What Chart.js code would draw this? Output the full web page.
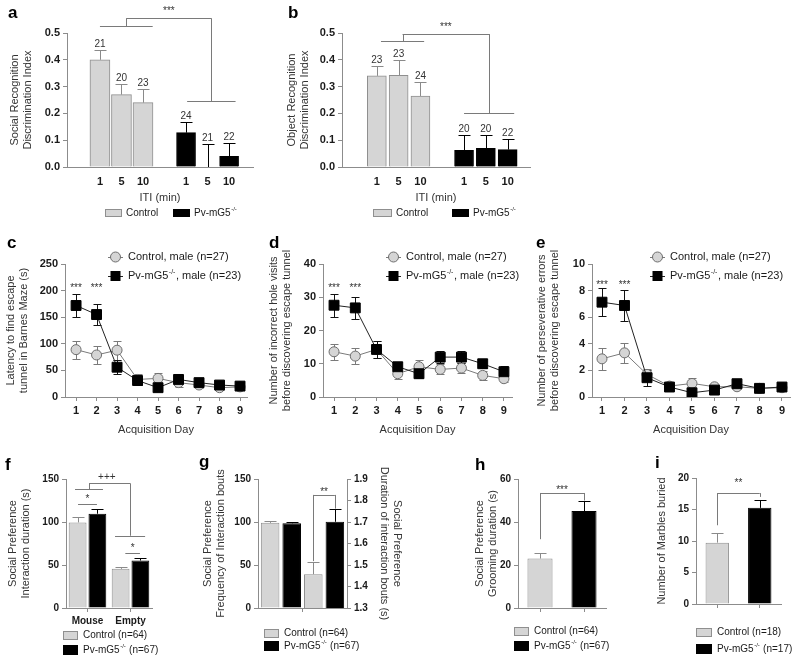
<!DOCTYPE html>
<html>
<head>
<meta charset="utf-8">
<script src="https://cdn.jsdelivr.net/npm/chart.js@4.4.1/dist/chart.umd.min.js"></script>
<style>
  html, body { margin: 0; padding: 0; background: #fff; }
  #fig { position: relative; width: 800px; height: 663px; overflow: hidden; background: #fff; }
  #fig canvas { position: absolute; }
</style>
</head>
<body>
<div id="fig">
  <canvas id="pa"></canvas>
  <canvas id="pb"></canvas>
  <canvas id="pc"></canvas>
  <canvas id="pd"></canvas>
  <canvas id="pe"></canvas>
  <canvas id="pf"></canvas>
  <canvas id="pg"></canvas>
  <canvas id="ph"></canvas>
  <canvas id="pi"></canvas>
</div>
<script>
// ---- values (mean, SEM, n) ----

// a: social recognition, per inter-trial interval
const itiLabels = ['1', '5', '10'];
const socCtrl = [0.40, 0.27, 0.24];
const socCtrlSem = [0.037, 0.041, 0.05];
const socCtrlN = [21, 20, 23];
const socKo = [0.128, 0.0, 0.04];
const socKoSem = [0.04, 0.085, 0.05];
const socKoN = [24, 21, 22];

// b: object recognition
const objCtrl = [0.34, 0.342, 0.265];
const objCtrlSem = [0.038, 0.056, 0.052];
const objCtrlN = [23, 23, 24];
const objKo = [0.062, 0.07, 0.065];
const objKoSem = [0.056, 0.048, 0.039];
const objKoN = [20, 20, 22];

// c, d, e: Barnes maze by acquisition day
const days = [1, 2, 3, 4, 5, 6, 7, 8, 9];
const latCtrl = [89, 79, 88, 33, 35, 27, 22.5, 17.5, 19];
const latCtrlSem = [17, 17, 18, 11, 10, 9, 6, 5, 5];
const latKo = [172, 155, 56, 31, 17.5, 33, 27, 22.5, 20.5];
const latKoSem = [21, 20, 13, 8, 7, 9, 6, 5, 5];

const holeCtrl = [13.6, 12.3, 14.3, 7.0, 9.1, 8.3, 8.7, 6.5, 5.5];
const holeCtrlSem = [2.4, 2.5, 2.5, 1.6, 2.0, 1.5, 1.4, 1.4, 1.0];
const holeKo = [27.6, 26.8, 14.3, 9.1, 7.0, 12.0, 12.0, 10.0, 7.6];
const holeKoSem = [3.4, 3.3, 2.5, 1.5, 1.2, 1.9, 1.9, 1.4, 1.8];

const persCtrl = [2.87, 3.32, 1.7, 0.82, 1.02, 0.77, 0.77, 0.65, 0.7];
const persCtrlSem = [0.82, 0.77, 0.4, 0.25, 0.4, 0.2, 0.2, 0.15, 0.15];
const persKo = [7.13, 6.88, 1.45, 0.75, 0.32, 0.52, 1.0, 0.65, 0.75];
const persKoSem = [1.05, 1.17, 0.6, 0.2, 0.15, 0.15, 0.2, 0.15, 0.15];

// f: social preference, interaction duration
const chambers = ['Mouse', 'Empty'];
const prefCtrl = [99.5, 45.5];
const prefCtrlSem = [5.8, 2.3];
const prefKo = [109.6, 55.2];
const prefKoSem = [5.0, 3.5];

// g: interaction bouts (control, Pv-mG5)
const boutFreq = [99, 98.5];
const boutFreqSem = [2.5, 2.0];
const boutDur = [1.457, 1.701];
const boutDurSem = [0.058, 0.058];

// h: grooming, i: marbles (control, Pv-mG5)
const groups = ['Control', 'Pv-mG5'];
const grooming = [23.0, 45.1];
const groomingSem = [2.7, 4.7];
const marbles = [9.74, 15.26];
const marblesSem = [1.5, 1.3];

const nMaze = [27, 23];
const nSocial = [64, 67];
const nMarble = [18, 17];

// ---- styling ----
const FONT = '"Liberation Sans", Arial, Helvetica, sans-serif';
const AXIS = '#8c8c8c';
const INK = '#1a1a1a';
const LIGHT = '#d5d5d5';
const EDGE = '#8f8f8f';
const DARK = '#000000';

Chart.defaults.font.family = FONT;
Chart.defaults.color = INK;
Chart.defaults.animation = false;
Chart.defaults.plugins.legend.display = false;
Chart.defaults.plugins.tooltip.enabled = false;

function font(size, weight) {
  return { family: FONT, size: size, weight: weight || 'normal', lineHeight: 1.15 };
}

function yAxis(o) {
  return {
    type: 'linear',
    position: o.position || 'left',
    min: o.min, max: o.max,
    border: { display: true, color: AXIS },
    grid: { drawOnChartArea: false, drawTicks: true, tickLength: 4, color: AXIS },
    ticks: {
      stepSize: o.step, padding: 3, color: INK, font: font(o.tickSize || 11, 'bold'),
      callback: function (v) { return o.digits ? v.toFixed(o.digits) : String(v); }
    },
    title: { display: true, text: o.title, color: '#333', font: font(o.titleSize || 11), padding: 0 },
    afterFit: function (s) { s.width = o.width; }
  };
}

function xLinear(o) {
  return {
    type: 'linear', min: o.min, max: o.max, bounds: 'data',
    afterBuildTicks: function (s) { s.ticks = o.at.map(function (v) { return { value: v }; }); },
    border: { display: true, color: AXIS },
    grid: { drawOnChartArea: false, drawTicks: o.marks, tickLength: 4, color: AXIS, offset: false },
    ticks: { autoSkip: false, maxRotation: 0, padding: o.pad, color: INK, font: font(11, 'bold'), callback: o.label },
    title: { display: true, text: o.title, color: '#333', font: font(11), padding: 0 },
    afterFit: function (s) { s.height = o.height; }
  };
}

function xCategory(o) {
  return {
    type: 'category', offset: true,
    border: { display: true, color: AXIS },
    grid: { drawOnChartArea: false, drawTicks: true, tickLength: 4, color: AXIS, offset: false },
    ticks: { padding: 3, color: INK, font: font(10, 'bold'), callback: o.label },
    afterFit: function (s) { s.height = o.height; }
  };
}

// bar series on a numeric x axis (panels a, b)
function itiBars(label, vals, sem, nums, first, ctrl, thick) {
  return {
    label: label,
    data: vals.map(function (v, i) { return { x: first + i, y: v }; }),
    sem: sem, nums: nums, cap: 6, semColor: ctrl ? '#8a8a8a' : DARK,
    backgroundColor: ctrl ? LIGHT : DARK, borderColor: ctrl ? EDGE : DARK, borderWidth: 1,
    grouped: false, maxBarThickness: thick, categoryPercentage: 1, barPercentage: 1
  };
}

function dayLine(label, vals, sem, ctrl) {
  return {
    label: label, data: vals, sem: sem, semBoth: true, cap: 4,
    semColor: ctrl ? '#7a7a7a' : '#111',
    borderColor: ctrl ? '#7a7a7a' : '#222', borderWidth: 1,
    pointStyle: ctrl ? 'circle' : 'rect', pointRadius: ctrl ? 5 : 7,
    pointBackgroundColor: ctrl ? LIGHT : DARK, pointBorderColor: ctrl ? '#6e6e6e' : DARK,
    pointBorderWidth: 1, tension: 0, order: ctrl ? 1 : 0
  };
}

// annotations per canvas: brackets, stars, legends, panel letters
const notes = {};

function seg(ctx, x0, y0, x1, y1) {
  if (y0 === y1) { y0 = y1 = Math.round(y0) + 0.5; }
  if (x0 === x1) { x0 = x1 = Math.round(x0) + 0.5; }
  ctx.moveTo(x0, y0);
  ctx.lineTo(x1, y1);
}

function richText(ctx, parts, x, y, size) {
  if (typeof parts === 'string') parts = [parts];
  ctx.textAlign = 'left';
  ctx.textBaseline = 'middle';
  ctx.font = size + 'px ' + FONT;
  ctx.fillText(parts[0], x, y);
  x += ctx.measureText(parts[0]).width;
  if (parts[1]) {
    ctx.font = Math.round(size * 0.62) + 'px ' + FONT;
    ctx.fillText(parts[1], x + 0.5, y - size * 0.38);
    x += ctx.measureText(parts[1]).width + 1;
    ctx.font = size + 'px ' + FONT;
  }
  if (parts[2]) ctx.fillText(parts[2], x, y);
}

const extras = {
  id: 'extras',
  beforeDatasetsDraw: function (chart) {
    const ctx = chart.ctx;
    chart.data.datasets.forEach(function (ds, di) {
      if (!ds.sem) return;
      const meta = chart.getDatasetMeta(di);
      const ys = chart.scales[meta.yAxisID];
      ctx.save();
      ctx.lineWidth = 1;
      meta.data.forEach(function (el, i) {
        const v = meta.controller.getParsed(i).y;
        const x = Math.round(el.x) + 0.5;
        const top = Math.round(ys.getPixelForValue(v + ds.sem[i])) + 0.5;
        const bot = ds.semBoth ? Math.round(ys.getPixelForValue(v - ds.sem[i])) + 0.5 : ys.getPixelForValue(v);
        ctx.strokeStyle = Array.isArray(ds.semColor) ? ds.semColor[i] : ds.semColor;
        ctx.beginPath();
        ctx.moveTo(x, bot); ctx.lineTo(x, top);
        ctx.moveTo(x - ds.cap, top); ctx.lineTo(x + ds.cap, top);
        if (ds.semBoth) { ctx.moveTo(x - ds.cap, bot); ctx.lineTo(x + ds.cap, bot); }
        ctx.stroke();
      });
      ctx.restore();
    });
  },
  afterDraw: function (chart) {
    const n = notes[chart.canvas.id];
    if (!n) return;
    const ctx = chart.ctx;
    const xs = chart.scales.x;
    ctx.save();

    // group sizes above bars
    chart.data.datasets.forEach(function (ds, di) {
      if (!ds.nums) return;
      const meta = chart.getDatasetMeta(di);
      const ys = chart.scales[meta.yAxisID];
      ctx.font = '10px ' + FONT; ctx.fillStyle = '#333';
      ctx.textAlign = 'center'; ctx.textBaseline = 'alphabetic';
      meta.data.forEach(function (el, i) {
        const v = meta.controller.getParsed(i).y + ds.sem[i];
        ctx.fillText(String(ds.nums[i]), el.x, ys.getPixelForValue(v) - 3);
      });
    });

    // significance brackets and stars
    (n.marks || []).forEach(function (m) {
      const ys = chart.scales[m.axis || 'y'];
      const X = function (v) { return typeof v === 'object' ? chart.getDatasetMeta(v.ds).data[v.i].x : xs.getPixelForValue(v); };
      const Y = function (v) { return ys.getPixelForValue(v); };
      let tx, ty;
      ctx.strokeStyle = '#7a7a7a'; ctx.lineWidth = 1;
      ctx.beginPath();
      if (m.type === 'group') {
        const a = (X(m.l[0]) + X(m.l[1])) / 2, b = (X(m.r[0]) + X(m.r[1])) / 2, t = Y(m.top);
        seg(ctx, X(m.l[0]), Y(m.l[2]), X(m.l[1]), Y(m.l[2]));
        seg(ctx, a, Y(m.l[2]), a, t);
        seg(ctx, a, t, b, t);
        seg(ctx, b, t, b, Y(m.r[2]));
        seg(ctx, X(m.r[0]), Y(m.r[2]), X(m.r[1]), Y(m.r[2]));
        tx = m.tx !== undefined ? X(m.tx) : (a + b) / 2; ty = t;
      } else if (m.type === 'legs') {
        const a = X(m.x0), b = X(m.x1), t = Y(m.y);
        seg(ctx, a, Y(m.y0), a, t);
        seg(ctx, a, t, b, t);
        seg(ctx, b, t, b, Y(m.y1));
        tx = (a + b) / 2; ty = t;
      } else if (m.type === 'line') {
        seg(ctx, X(m.x0), Y(m.y), X(m.x1), Y(m.y));
        tx = (X(m.x0) + X(m.x1)) / 2; ty = Y(m.y);
      } else {
        tx = X(m.x); ty = Y(m.y);
      }
      ctx.stroke();
      ctx.fillStyle = '#333'; ctx.font = '10px ' + FONT;
      ctx.textAlign = 'center'; ctx.textBaseline = 'alphabetic';
      ctx.fillText(m.text, tx, ty - (m.dy === undefined ? 4 : m.dy));
    });

    // legends, given in page coordinates
    (n.legend || []).forEach(function (it) {
      const x = it.x - n.box.x, y = it.y - n.box.y;
      ctx.lineWidth = 1;
      if (it.kind === 'box') {
        ctx.fillStyle = it.fill;
        ctx.fillRect(x, Math.round(y - it.h / 2), it.w, it.h);
        if (it.edge) {
          ctx.strokeStyle = it.edge;
          ctx.strokeRect(x + 0.5, Math.round(y - it.h / 2) + 0.5, it.w - 1, it.h - 1);
        }
      } else {
        ctx.strokeStyle = it.kind === 'circle' ? '#7a7a7a' : '#222';
        ctx.beginPath(); seg(ctx, x, y, x + it.w, y); ctx.stroke();
        const cx = x + it.w / 2;
        if (it.kind === 'circle') {
          ctx.beginPath(); ctx.arc(cx, y, 5, 0, Math.PI * 2);
          ctx.fillStyle = LIGHT; ctx.fill(); ctx.strokeStyle = '#6e6e6e'; ctx.stroke();
        } else {
          ctx.fillStyle = DARK; ctx.fillRect(cx - 5, y - 5, 10, 10);
        }
      }
      ctx.fillStyle = INK;
      richText(ctx, it.text, x + it.w + (it.gap || 4), y, it.size || 10);
    });

    // panel letter
    if (n.letter) {
      ctx.fillStyle = DARK; ctx.font = 'bold 17px ' + FONT;
      ctx.textAlign = 'left'; ctx.textBaseline = 'alphabetic';
      ctx.fillText(n.letter[0], n.letter[1] - n.box.x, n.letter[2] - n.box.y);
    }
    ctx.restore();
  }
};

function makeChart(id, box, config, note) {
  const cv = document.getElementById(id);
  cv.width = box.w; cv.height = box.h;
  cv.style.width = box.w + 'px'; cv.style.height = box.h + 'px';
  cv.style.left = box.x + 'px'; cv.style.top = box.y + 'px';
  note.box = box;
  notes[id] = note;
  config.options.responsive = false;
  config.options.maintainAspectRatio = false;
  config.options.devicePixelRatio = 1;
  config.options.animation = false;
  config.plugins = [extras];
  return new Chart(cv, config);
}

function itiLabel(v) { return itiLabels[v < 4 ? v - 1 : v - 5]; }
function blank() { return ''; }
const koName = ['Pv-mG5', '-/-'];

// ---- a ----
makeChart('pa', { x: 0, y: 0, w: 262, h: 222 }, {
  type: 'bar',
  data: { datasets: [
    itiBars('Control', socCtrl, socCtrlSem, socCtrlN, 1, true, 20),
    itiBars('Pv-mG5-/-', socKo, socKoSem, socKoN, 5, false, 19)
  ] },
  options: {
    layout: { padding: { left: 9, top: 33, right: 9, bottom: 18 } },
    scales: {
      x: xLinear({ min: 0.19, max: 7.39, at: [1, 2, 3, 5, 6, 7], marks: false, pad: 9, height: 37, label: itiLabel, title: 'ITI (min)' }),
      y: yAxis({ min: 0, max: 0.5, step: 0.1, digits: 1, width: 58, title: ['Social Recognition', 'Discrimination Index'] })
    }
  }
}, {
  letter: ['a', 8, 18],
  marks: [{ type: 'group', l: [1.0, 3.45, 0.525], r: [5.05, 7.3, 0.245], top: 0.555, text: '***' }],
  legend: [
    { kind: 'box', x: 105, y: 213, w: 17, h: 8, fill: LIGHT, edge: EDGE, text: groups[0] },
    { kind: 'box', x: 173, y: 213, w: 17, h: 8, fill: DARK, text: koName }
  ]
});

// ---- b ----
makeChart('pb', { x: 262, y: 0, w: 272, h: 222 }, {
  type: 'bar',
  data: { datasets: [
    itiBars('Control', objCtrl, objCtrlSem, objCtrlN, 1, true, 19),
    itiBars('Pv-mG5-/-', objKo, objKoSem, objKoN, 5, false, 19)
  ] },
  options: {
    layout: { padding: { left: 24, top: 33, right: 4, bottom: 18 } },
    scales: {
      x: xLinear({ min: 0.121, max: 7.306, at: [1, 2, 3, 5, 6, 7], marks: false, pad: 9, height: 37, label: itiLabel, title: 'ITI (min)' }),
      y: yAxis({ min: 0, max: 0.5, step: 0.1, digits: 1, width: 56, title: ['Object Recognition', 'Discrimination Index'] })
    }
  }
}, {
  letter: ['b', 288, 18],
  marks: [{ type: 'group', l: [1.19, 3.17, 0.47], r: [5.0, 7.3, 0.2], top: 0.496, text: '***' }],
  legend: [
    { kind: 'box', x: 373, y: 213, w: 19, h: 8, fill: LIGHT, edge: EDGE, text: groups[0] },
    { kind: 'box', x: 452, y: 213, w: 17, h: 8, fill: DARK, text: koName }
  ]
});

// ---- c, d, e ----
function mazeChart(id, box, pad, yWidth, xr, yo, ctrl, ctrlSem, ko, koSem, letter, legendX, starY) {
  makeChart(id, box, {
    type: 'line',
    data: { labels: days, datasets: [
      dayLine('Control', ctrl, ctrlSem, true),
      dayLine('Pv-mG5-/-', ko, koSem, false)
    ] },
    options: {
      layout: { padding: pad },
      scales: {
        x: xLinear({ min: xr[0], max: xr[1], at: days, marks: true, pad: 4, height: 39, title: 'Acquisition Day' }),
        y: yAxis({ min: 0, max: yo.max, step: yo.step, width: yWidth, title: yo.title })
      }
    }
  }, {
    letter: letter,
    marks: [
      { type: 'text', x: 1, y: starY, text: '***', dy: 0 },
      { type: 'text', x: 2, y: starY, text: '***', dy: 0 }
    ],
    legend: [
      { kind: 'circle', x: legendX, y: 257, w: 15, gap: 5, size: 11, text: groups[0] + ', male (n=' + nMaze[0] + ')' },
      { kind: 'square', x: legendX, y: 276, w: 15, gap: 5, size: 11, text: [koName[0], koName[1], ', male (n=' + nMaze[1] + ')'] }
    ]
  });
}

mazeChart('pc', { x: 0, y: 222, w: 265, h: 218 }, { left: 5, top: 42, right: 18, bottom: 4 }, 60, [0.46, 9.34],
  { max: 250, step: 50, title: ['Latency to find escape', 'tunnel in Barnes Maze (s)'] },
  latCtrl, latCtrlSem, latKo, latKoSem, ['c', 7, 248], 108, 200);

mazeChart('pd', { x: 265, y: 222, w: 265, h: 218 }, { left: 3, top: 42, right: 18, bottom: 4 }, 55, [0.48, 9.38],
  { max: 40, step: 10, title: ['Number of incorrect hole visits', 'before discovering escape tunnel'] },
  holeCtrl, holeCtrlSem, holeKo, holeKoSem, ['d', 269, 248], 386, 32);

mazeChart('pe', { x: 530, y: 222, w: 270, h: 218 }, { left: 6, top: 42, right: 10, bottom: 4 }, 56, [0.556, 9.356],
  { max: 10, step: 2, title: ['Number of perseverative errors', 'before discovering escape tunnel'] },
  persCtrl, persCtrlSem, persKo, persKoSem, ['e', 536, 248], 650, 8.2);

// legends shared by f-i
function pairLegend(x, y0, y1, w, n) {
  return [
    { kind: 'box', x: x, y: y0, w: w, h: 9, fill: LIGHT, edge: EDGE, gap: 5, text: groups[0] + ' (n=' + n[0] + ')' },
    { kind: 'box', x: x, y: y1, w: w, h: 10, fill: DARK, gap: 5, text: [koName[0], koName[1], ' (n=' + n[1] + ')'] }
  ];
}

// ---- f ----
makeChart('pf', { x: 0, y: 440, w: 195, h: 223 }, {
  type: 'bar',
  data: { labels: chambers, datasets: [
    { label: 'Control', data: prefCtrl, sem: prefCtrlSem, cap: 6, semColor: '#8a8a8a',
      backgroundColor: LIGHT, borderColor: EDGE, borderWidth: 1, categoryPercentage: 0.92, barPercentage: 0.9 },
    { label: 'Pv-mG5-/-', data: prefKo, sem: prefKoSem, cap: 6, semColor: DARK,
      backgroundColor: DARK, borderColor: DARK, borderWidth: 1, categoryPercentage: 0.92, barPercentage: 0.9 }
  ] },
  options: {
    layout: { padding: { left: 7, top: 39, right: 43, bottom: 25 } },
    scales: {
      x: xCategory({ height: 30, label: function (v) { return chambers[v]; } }),
      y: yAxis({ min: 0, max: 150, step: 50, width: 59, tickSize: 10, title: ['Social Preference', 'Interaction duration (s)'] })
    }
  }
}, {
  letter: ['f', 5, 470],
  marks: [
    { type: 'group', l: [-0.29, 0.36, 138], r: [0.64, 1.34, 84], top: 145, text: '+++', tx: 0.45, dy: 3 },
    { type: 'line', x0: -0.22, x1: 0.22, y: 121, text: '*', dy: 2 },
    { type: 'line', x0: 0.88, x1: 1.22, y: 64, text: '*', dy: 2 }
  ],
  legend: pairLegend(63, 635, 650, 15, nSocial)
});

// ---- g ----
function boutBar(vals, sem, i, axis) {
  return {
    label: groups[i], data: [vals[i]], sem: [sem[i]], cap: 6, yAxisID: axis,
    semColor: i === 0 ? '#8a8a8a' : DARK,
    backgroundColor: i === 0 ? LIGHT : DARK, borderColor: i === 0 ? EDGE : DARK, borderWidth: 1,
    categoryPercentage: 0.97, barPercentage: 0.86
  };
}
makeChart('pg', { x: 195, y: 440, w: 215, h: 223 }, {
  type: 'bar',
  data: { labels: ['Interaction bouts'], datasets: [
    boutBar(boutFreq, boutFreqSem, 0, 'y'),
    boutBar(boutFreq, boutFreqSem, 1, 'y'),
    boutBar(boutDur, boutDurSem, 0, 'y1'),
    boutBar(boutDur, boutDurSem, 1, 'y1')
  ] },
  options: {
    layout: { padding: { left: 7, top: 39, right: 7, bottom: 25 } },
    scales: {
      x: xCategory({ height: 30, label: blank }),
      y: yAxis({ min: 0, max: 150, step: 50, width: 56, tickSize: 10, title: ['Social Preference', 'Frequency of Interaction bouts'] }),
      y1: yAxis({ position: 'right', min: 1.3, max: 1.9, step: 0.1, digits: 1, width: 56, tickSize: 10, title: ['Social Preference', 'Duration of interaction bouts (s)'] })
    }
  }
}, {
  letter: ['g', 199, 467],
  marks: [{ type: 'legs', x0: { ds: 2, i: 0 }, x1: { ds: 3, i: 0 }, y: 1.826, y0: 1.518, y1: 1.762, axis: 'y1', text: '**', dy: 0 }],
  legend: pairLegend(264, 633, 646, 15, nSocial)
});

// ---- h ----
makeChart('ph', { x: 410, y: 440, w: 205, h: 223 }, {
  type: 'bar',
  data: { labels: groups, datasets: [
    { label: 'Grooming', data: grooming, sem: groomingSem, cap: 6, semColor: ['#8a8a8a', DARK],
      backgroundColor: [LIGHT, DARK], borderColor: [EDGE, DARK], borderWidth: 1, categoryPercentage: 1, barPercentage: 0.57 }
  ] },
  options: {
    layout: { padding: { left: 64, top: 39, right: 9, bottom: 25 } },
    scales: {
      x: xCategory({ height: 30, label: blank }),
      y: yAxis({ min: 0, max: 60, step: 20, width: 44, tickSize: 10, title: ['Social Preference', 'Grooming duration (s)'] })
    }
  }
}, {
  letter: ['h', 475, 470],
  marks: [{ type: 'legs', x0: 0, x1: 1, y: 53.5, y0: 32, y1: 50, text: '***', dy: 0 }],
  legend: pairLegend(514, 631, 646, 15, nSocial)
});

// ---- i ----
makeChart('pi', { x: 600, y: 440, w: 200, h: 223 }, {
  type: 'bar',
  data: { labels: groups, datasets: [
    { label: 'Marbles', data: marbles, sem: marblesSem, cap: 6, semColor: ['#8a8a8a', DARK],
      backgroundColor: [LIGHT, DARK], borderColor: [EDGE, DARK], borderWidth: 1, categoryPercentage: 1, barPercentage: 0.55 }
  ] },
  options: {
    layout: { padding: { left: 56, top: 38, right: 19, bottom: 29 } },
    scales: {
      x: xCategory({ height: 30, label: blank }),
      y: yAxis({ min: 0, max: 20, step: 5, width: 40, tickSize: 10, title: 'Number of Marbles buried' })
    }
  }
}, {
  letter: ['i', 655, 468],
  marks: [{ type: 'legs', x0: 0, x1: 1, y: 17.6, y0: 12.5, y1: 17.0, text: '**', dy: 7 }],
  legend: pairLegend(696, 632, 649, 16, nMarble)
});
</script>
</body>
</html>
